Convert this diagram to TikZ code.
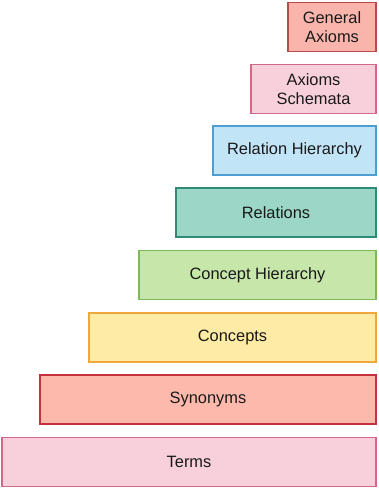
\documentclass[tikz,border=0pt]{standalone}
\usepackage{fontspec}
\setmainfont{Liberation Sans}
\definecolor{gaFill}{HTML}{F9B5AB}\definecolor{gaDraw}{HTML}{B84A4A}
\definecolor{asFill}{HTML}{F8D0DC}\definecolor{asDraw}{HTML}{D2698A}
\definecolor{rhFill}{HTML}{C2E4F7}\definecolor{rhDraw}{HTML}{4E9FD0}
\definecolor{reFill}{HTML}{9BD6C6}\definecolor{reDraw}{HTML}{2E8B74}
\definecolor{chFill}{HTML}{C7E7AA}\definecolor{chDraw}{HTML}{7DB85A}
\definecolor{coFill}{HTML}{FEEBA6}\definecolor{coDraw}{HTML}{F0A83C}
\definecolor{syFill}{HTML}{FDB9AC}\definecolor{syDraw}{HTML}{C4303F}
\definecolor{teFill}{HTML}{F8D0DC}\definecolor{teDraw}{HTML}{D2698A}
\tikzset{
  layer/.style={draw, rectangle, line width=1.3pt, inner sep=0pt, align=center,
    minimum height=49pt, text=black!90, font=\fontsize{16.4}{18.8}\selectfont}
}
\begin{document}
\begin{tikzpicture}[x=1pt,y=-1pt]
\useasboundingbox (0,0) rectangle (378,489);
\node[layer, fill=gaFill, draw=gaDraw, minimum width=88pt] (ga) at ({(288+376)/2},27) {General\\Axioms};
\node[layer, fill=asFill, draw=asDraw, minimum width=125pt] (as) at ({(251+376)/2},89) {Axioms\\Schemata};
\node[layer, fill=rhFill, draw=rhDraw, minimum width=163pt] (rh) at ({(213+376)/2},150.5) {Relation Hierarchy};
\node[layer, fill=reFill, draw=reDraw, minimum width=200pt] (re) at ({(176+376)/2},212.5) {Relations};
\node[layer, fill=chFill, draw=chDraw, minimum width=237pt] (ch) at ({(139+376)/2},275) {Concept Hierarchy};
\node[layer, fill=coFill, draw=coDraw, minimum width=287pt] (co) at ({(89+376)/2},337.5) {Concepts};
\node[layer, fill=syFill, draw=syDraw, minimum width=336pt] (sy) at ({(40+376)/2},399.5) {Synonyms};
\node[layer, fill=teFill, draw=teDraw, minimum width=374pt] (te) at ({(2+376)/2},462) {Terms};
\end{tikzpicture}
\end{document}
